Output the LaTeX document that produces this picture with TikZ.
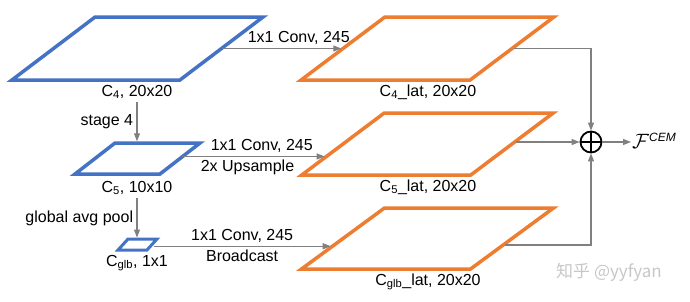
\documentclass[tikz,border=0pt]{standalone}
\usepackage{amsmath}
\usepackage{fontspec}
\setmainfont{Liberation Sans}
\newfontfamily\cjkfont{Noto Sans CJK SC}
\usetikzlibrary{arrows.meta, positioning, calc}
\definecolor{mapblue}{RGB}{68,114,196}
\definecolor{maporange}{RGB}{237,125,49}
\definecolor{conngray}{RGB}{128,128,128}
\newcommand{\lowidx}[1]{\textsubscript{#1}}
\tikzset{
	bluemap/.style={draw=mapblue, line width=3.5pt, inner sep=0pt},
	orangemap/.style={draw=maporange, line width=3.5pt, inner sep=0pt},
	conn/.style={draw=conngray, line width=1.1pt, -{Triangle[length=8pt, width=6pt]}},
}

\begin{document}
\begin{tikzpicture}[x=1pt, y=-1pt, font=\fontsize{16}{19}\selectfont]
			\useasboundingbox (0,0) rectangle (690,301);
			% Feature maps:
			\node[bluemap, minimum width=168, minimum height=63, xslant=1.32](c4) at (137.5, 48.5){};
			\node[bluemap, minimum width=85, minimum height=31, xslant=1.29](c5) at (137.5, 158.5){};
			\node[bluemap, minimum width=29, minimum height=11, xslant=0.91, line width=3pt](cglb) at (137.5, 244.5){};
			\node[orangemap, minimum width=169, minimum height=63, xslant=1.33](c4lat) at (427.5, 48.5){};
			\node[orangemap, minimum width=169, minimum height=62, xslant=1.33](c5lat) at (427.5, 144){};
			\node[orangemap, minimum width=169, minimum height=61, xslant=1.36](cglblat) at (427.5, 238.5){};
			% Names under the maps:
			\node(c4lab) at (137, 92){C\lowidx{4}, 20x20};
			\node(c5lab) at (137, 188){C\lowidx{5}, 10x10};
			\node(cglblab) at (137, 263){C\lowidx{glb}, 1x1};
			\node(c4latlab) at (428, 92){C\lowidx{4}\_lat, 20x20};
			\node(c5latlab) at (428, 187){C\lowidx{5}\_lat, 20x20};
			\node(cglblatlab) at (428, 282){C\lowidx{glb}\_lat, 20x20};
			% Sum and output:
			\node[circle, draw, line width=1.8pt, minimum size=21pt, inner sep=0pt, path picture={\draw[line width=1.8pt] (path picture bounding box.north) -- (path picture bounding box.south) (path picture bounding box.west) -- (path picture bounding box.east);}](sum) at (591, 142){};
			\node[anchor=west, inner sep=1pt, font=\fontsize{20}{24}\selectfont](fcem) at (631, 141){$\mathcal{F}^{\text{\fontsize{12}{14}\selectfont\itshape CEM}}$};
			\node[text=black!22, font=\cjkfont\fontsize{17}{20}\selectfont](mark) at (609, 272){知乎 @yyfyan};
			% Points on the slanted edges:
			\coordinate (c5in) at ($(c5lat.south west)!0.31!(c5lat.north west)$);
			\coordinate (cglbin) at ($(cglblat.south west)!0.38!(cglblat.north west)$);
			\coordinate (c5out) at ($(c5lat.south east)!0.53!(c5lat.north east)$);
			\coordinate (cglbout) at ($(cglblat.south east)!0.4!(cglblat.north east)$);
			% Connectors:
			\draw[conn] (c4.east) -- node[above, pos=0.64]{1x1 Conv, 245} (c4lat.west);
			\draw[conn] (c5.east |- c5in) -- node[above, pos=0.56]{1x1 Conv, 245} node[below, pos=0.46]{2x Upsample} (c5in);
			\draw[conn] (cglb.east |- cglbin) -- node[above, pos=0.5]{1x1 Conv, 245} node[below, pos=0.5]{Broadcast} (cglbin);
			\draw[conn] (c4lab.south) -- node[left]{stage 4} (c4lab.south |- c5.north);
			\draw[conn] (c5lab.south) -- node[left]{global avg pool} (c5lab.south |- cglb.north);
			\draw[conn] (c4lat.east) -| (sum.north);
			\draw[conn] (c5out |- sum.west) -- (sum.west);
			\draw[conn] (cglbout) -| (sum.south);
			\draw[conn] (sum.east) -- (sum.east -| fcem.west);
		\end{tikzpicture}
\end{document}
